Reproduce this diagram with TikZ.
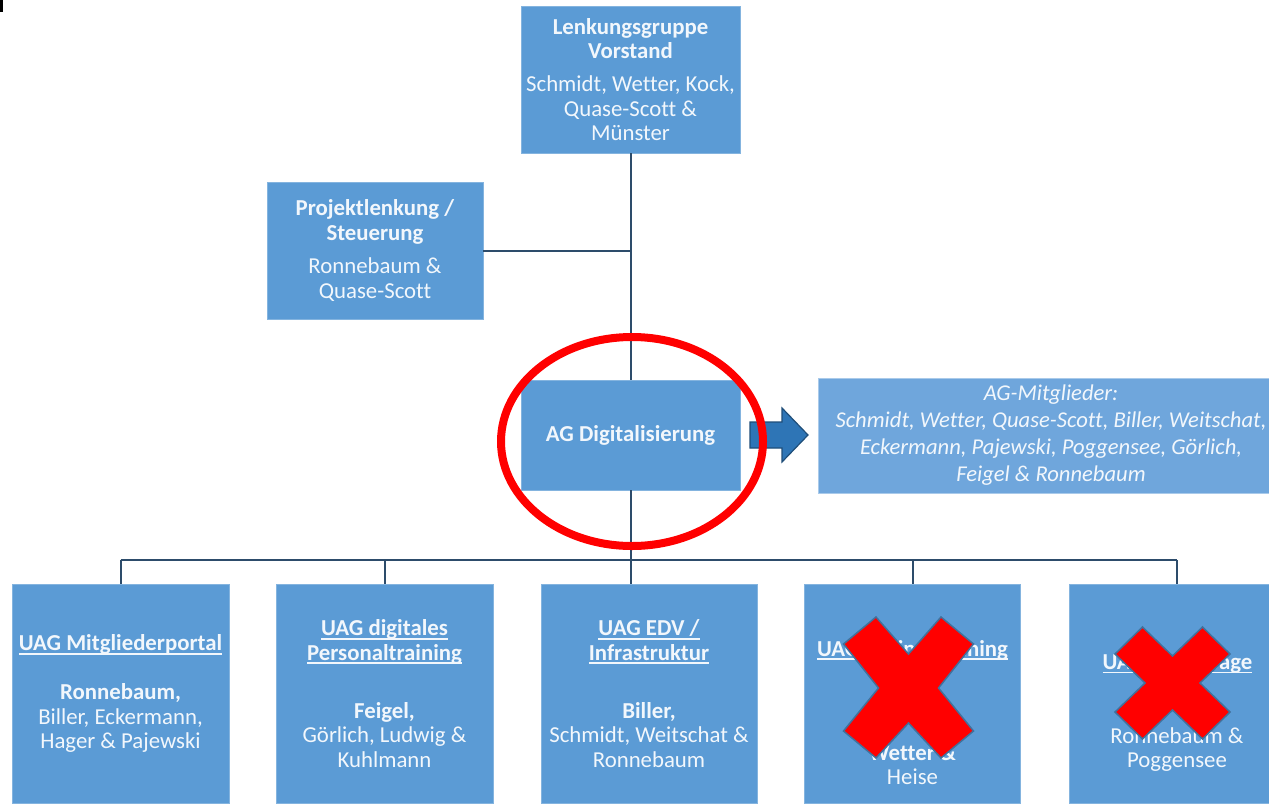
\documentclass[tikz,border=0pt]{standalone}
\usepackage{fontspec}
\setmainfont[Ligatures=NoCommon]{Carlito}
\definecolor{boxblue}{HTML}{5B9BD5}
\definecolor{lightbox}{HTML}{6FA6DC}
\definecolor{linec}{HTML}{2D4C6B}
\definecolor{arrowfill}{HTML}{2E75B6}
\definecolor{arrowdraw}{HTML}{1F4E79}
\definecolor{crossdraw}{HTML}{41719C}
\definecolor{txtc}{HTML}{F2F7FC}
\newcommand\myul[1]{\leavevmode\setbox0=\hbox{#1}\rlap{\rule[-4pt]{\wd0}{1.8pt}}\box0}
\tikzset{
  orgbox/.style={rectangle, fill=boxblue, draw=boxblue!75!white, line width=0.8pt,
    text=txtc, align=center, inner sep=0pt, font=\fontsize{22.8}{24.5}\selectfont},
  membox/.style={rectangle, fill=lightbox, draw=lightbox!60!white, line width=1pt,
    text=txtc, align=center, inner sep=0pt, font=\fontsize{22.6}{27}\selectfont\itshape},
  txt/.style={text=txtc, align=center, inner sep=0pt, font=\fontsize{22.8}{24.5}\selectfont},
  conn/.style={draw=linec, line width=2pt},
  xmark/.style={fill=red, draw=crossdraw, line width=1.5pt, line join=miter},
  bigarrow/.style={fill=arrowfill, draw=arrowdraw, line width=1.2pt},
  ring/.style={draw=red, line width=8pt}
}
\begin{document}
\begin{tikzpicture}[x=1pt,y=-1pt]
\clip (0,0) rectangle (1269,806);
\fill[white] (0,0) rectangle (1269,806);
\fill[black] (0,0) rectangle (2.5,12);

% boxes
\node[orgbox, minimum width=219pt, minimum height=147pt] (top) at (630.5,79.5)
  {\textbf{Lenkungsgruppe}\\\textbf{Vorstand}\\[8.5pt]Schmidt, Wetter, Kock,\\Quase-Scott \&\\Münster};
\node[orgbox, minimum width=216pt, minimum height=137pt] (proj) at (375,250.5)
  {\textbf{Projektlenkung /}\\\textbf{Steuerung}\\[9pt]Ronnebaum \&\\Quase-Scott};
\node[orgbox, minimum width=219pt, minimum height=110pt] (ag) at (630.5,435)
  {\textbf{AG Digitalisierung}};
\node[membox, minimum width=466pt, minimum height=115pt] (mit) at (1051,435.5)
  {AG-Mitglieder:\\Schmidt, Wetter, Quase-Scott, Biller, Weitschat,\\Eckermann, Pajewski, Poggensee, Görlich,\\Feigel \& Ronnebaum};

\node[orgbox, minimum width=217pt, minimum height=219pt] (b1) at (120.5,693.5)
  {\textbf{\myul{UAG Mitgliederportal}}\\[24.5pt]\textbf{Ronnebaum,}\\Biller, Eckermann,\\Hager \& Pajewski};
\node[orgbox, minimum width=217pt, minimum height=219pt] (b2) at (384.5,693.5)
  {\textbf{\myul{UAG digitales}}\\\textbf{\myul{Personaltraining}}\\[33.5pt]\textbf{Feigel,}\\Görlich, Ludwig \&\\Kuhlmann};
\node[orgbox, minimum width=216pt, minimum height=219pt] (b3) at (649,693.5)
  {\textbf{\myul{UAG EDV /}}\\\textbf{\myul{Infrastruktur}}\\[33.5pt]\textbf{Biller,}\\Schmidt, Weitschat \&\\Ronnebaum};
\node[orgbox, minimum width=216pt, minimum height=219pt] (b4) at (912.5,693.5) {};
\node[orgbox, minimum width=216pt, minimum height=219pt] (b5) at (1177,693.5) {};
\node[txt] (b4t) at (912.5,650) {\textbf{\myul{UAG Online-Training}}};
\node[txt] (b4n) at (912.5,764.5) {\textbf{Wetter \&}\\Heise};
\node[txt] (b5t) at (1177.5,664) {\textbf{\myul{UAG Homepage}}};
\node[txt] (b5n) at (1177,749.5) {Ronnebaum \&\\Poggensee};

% connectors
\coordinate (busL) at (120.5,560);
\coordinate (busR) at (1177,560);
\draw[conn] (top.south) -- (ag.north);
\draw[conn] (ag.south) -- (ag.south |- b3.north);
\draw[conn] (proj.east) -- (proj.east -| top.south);
\draw[conn] (busL) -- (busR);
\draw[conn] (b1.north) -- (b1.north |- busL);
\draw[conn] (b2.north) -- (b2.north |- busL);
\draw[conn] (b4.north) -- (b4.north |- busL);
\draw[conn] (b5.north) -- (b5.north |- busL);

% arrow
\draw[bigarrow] (750,422) -- (782,422) -- (782,408) -- (808,435) -- (782,462) -- (782,448) -- (750,448) -- cycle;

% red ring
\draw[ring] (632,441.5) ellipse [x radius=131pt, y radius=104.5pt];

% crosses
\begin{scope}[shift={(908.5,688)}]
\draw[xmark] (0,-34) -- (32.5,-71) -- (65,-44) -- (30,0) -- (65,43) -- (32.5,70) -- (0,35)
  -- (-32.5,70) -- (-65,43) -- (-30,0) -- (-65,-44) -- (-32.5,-71) -- cycle;
\end{scope}
\begin{scope}[shift={(1172.5,683)}]
\draw[xmark] (0,-27) -- (30,-56) -- (57.5,-29) -- (27.5,0) -- (57.5,29) -- (30,56) -- (0,27)
  -- (-30,56) -- (-57.5,29) -- (-27.5,0) -- (-57.5,-29) -- (-30,-56) -- cycle;
\end{scope}
\end{tikzpicture}
\end{document}
